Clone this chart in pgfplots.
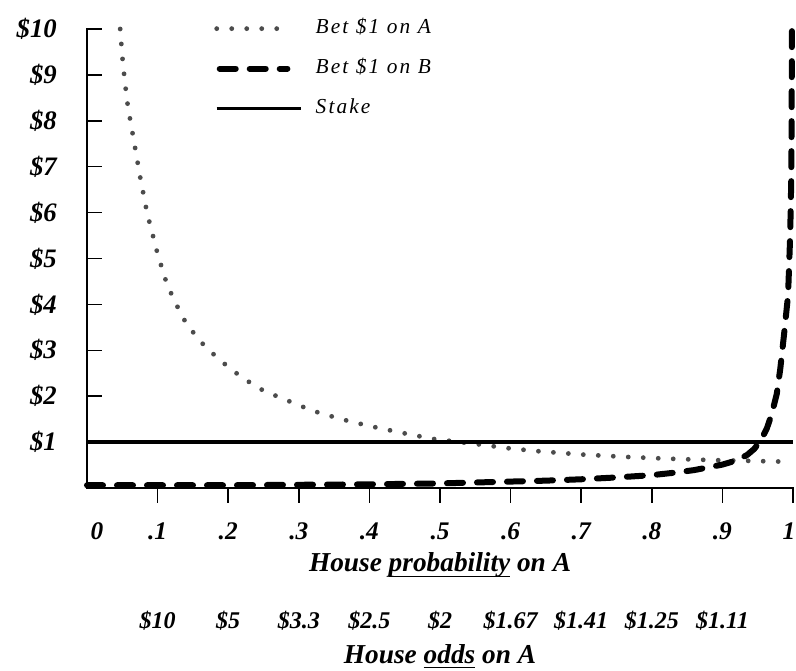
\documentclass[border=0pt]{standalone}
\usepackage{fontspec}
\setmainfont{Liberation Serif}
\newfontfamily\legfont[LetterSpace=10]{Liberation Serif}
\usepackage{pgfplots}
\pgfplotsset{compat=1.18}
\pgfplotsset{
  legA/.style={legend image code/.code={\draw[##1] (0pt,0pt) -- (46pt,0pt);}},
  legB/.style={legend image code/.code={\draw[##1] (2.25pt,0pt) -- (53pt,0pt);}},
  legC/.style={legend image code/.code={\draw[##1] (0pt,0pt) -- (63pt,0pt);}},
}
\newcommand\ul[1]{\setbox0\hbox{#1}\rlap{\rule[-4pt]{\wd0}{1.3pt}}\box0\relax}
\begin{document}
\begin{tikzpicture}
\useasboundingbox (0,0) rectangle (597pt,503.25pt);
\begin{axis}[
  at={(65.25pt,137.25pt)}, anchor=south west,
  scale only axis, width=529.5pt, height=344.25pt,
  xmin=0, xmax=1, ymin=0, ymax=10,
  axis lines*=left,
  axis line style={line width=1.5pt, line cap=rect},
  clip=false,
  tick align=outside,
  major tick length=11pt,
  every tick/.style={black, line width=1.1pt},
  ytick style={xshift=11pt},
  xtick={0.1,0.2,0.3,0.4,0.5,0.6,0.7,0.8,0.9,1},
  xticklabels={.1,.2,.3,.4,.5,.6,.7,.8,.9,1\hspace*{6pt}},
  ytick={1,2,3,4,5,6,7,8,9,10},
  yticklabels={\$1,\$2,\$3,\$4,\$5,\$6,\$7,\$8,\$9,\$10},
  xticklabel style={anchor=base, inner sep=0pt, yshift=-28pt,
    font=\fontsize{19}{21}\selectfont\bfseries\itshape},
  yticklabel style={anchor=east, inner sep=0pt, xshift=-11.5pt,
    font=\fontsize{20}{22}\selectfont\bfseries\itshape},
  extra x ticks={0.014},
  extra x tick labels={0},
  extra x tick style={xtick style={draw=none}},
  xlabel={House \ul{probability} on A},
  xlabel style={at={(axis description cs:0.5,0)}, anchor=base, yshift=-63pt,
    font=\fontsize{20.5}{22}\selectfont\bfseries\itshape},
  legend style={draw=none, fill=none, at={(0.18,1.021)}, anchor=north west,
    inner sep=0pt, row sep=16.5pt, column sep=10pt,
    nodes={inner sep=0pt, text height=10.5pt, text depth=3pt,
      font=\legfont\itshape\fontsize{16}{18}\selectfont}},
  legend cell align=left,
]
\addplot[legA, black!70, line width=3.6pt, line cap=round, dash pattern=on 0pt off 11.25pt]
  coordinates {
  (0.047,10) (0.05,9.4) (0.054,8.8) (0.058,8.3) (0.066,7.6) (0.075,6.8)
  (0.085,6.0) (0.1,5.1) (0.112,4.5) (0.123,4.1) (0.14,3.6) (0.16,3.2)
  (0.187,2.8) (0.22,2.4) (0.25,2.12) (0.28,1.93) (0.32,1.68) (0.36,1.5)
  (0.4,1.35) (0.45,1.19) (0.49,1.07) (0.55,0.96) (0.6,0.86) (0.64,0.80)
  (0.7,0.73) (0.76,0.68) (0.82,0.64) (0.88,0.61) (0.94,0.59) (1,0.57)
  };
\addlegendentry{Bet \$1 on A}
\addplot[legB, black, line width=4.5pt, line cap=round, dash pattern=on 12pt off 10.5pt]
  coordinates {
  (0,0.06) (0.1,0.06) (0.2,0.06) (0.3,0.07) (0.4,0.08) (0.5,0.1) (0.55,0.12)
  (0.6,0.14) (0.65,0.16) (0.7,0.19) (0.75,0.23) (0.8,0.28) (0.83,0.33)
  (0.86,0.39) (0.88,0.45) (0.9,0.51) (0.92,0.6) (0.935,0.72) (0.945,0.85)
  (0.955,1.05) (0.963,1.3) (0.97,1.62) (0.977,2.05) (0.982,2.6) (0.987,3.3)
  (0.991,3.9) (0.993,4.2) (0.996,5.5) (0.9975,6.7) (0.998,8) (0.9985,10)
  };
\addlegendentry{Bet \$1 on B}
\addplot[legC, black, line width=2.5pt]
  coordinates {(0,1) (1,1)};
\addlegendentry{Stake}
\end{axis}
\begin{axis}[
  at={(65.25pt,137.25pt)}, anchor=south west,
  scale only axis, width=529.5pt, height=344.25pt,
  xmin=0, xmax=1, ymin=0, ymax=1,
  hide y axis,
  axis x line*=bottom,
  x axis line style={draw=none},
  major tick length=0pt,
  xtick={0.1,0.2,0.3,0.4,0.5,0.6,0.7,0.8,0.9},
  xticklabels={\$10,\$5,\$3.3,\$2.5,\$2,\$1.67,\$1.41,\$1.25,\$1.11},
  xticklabel style={anchor=base, inner sep=0pt, yshift=-105.5pt,
    font=\fontsize{18}{20}\selectfont\bfseries\itshape},
  xlabel={House \ul{odds} on A},
  xlabel style={at={(axis description cs:0.5,0)}, anchor=base, yshift=-131.25pt,
    font=\fontsize{20.5}{22}\selectfont\bfseries\itshape},
]
\end{axis}
\end{tikzpicture}
\end{document}
